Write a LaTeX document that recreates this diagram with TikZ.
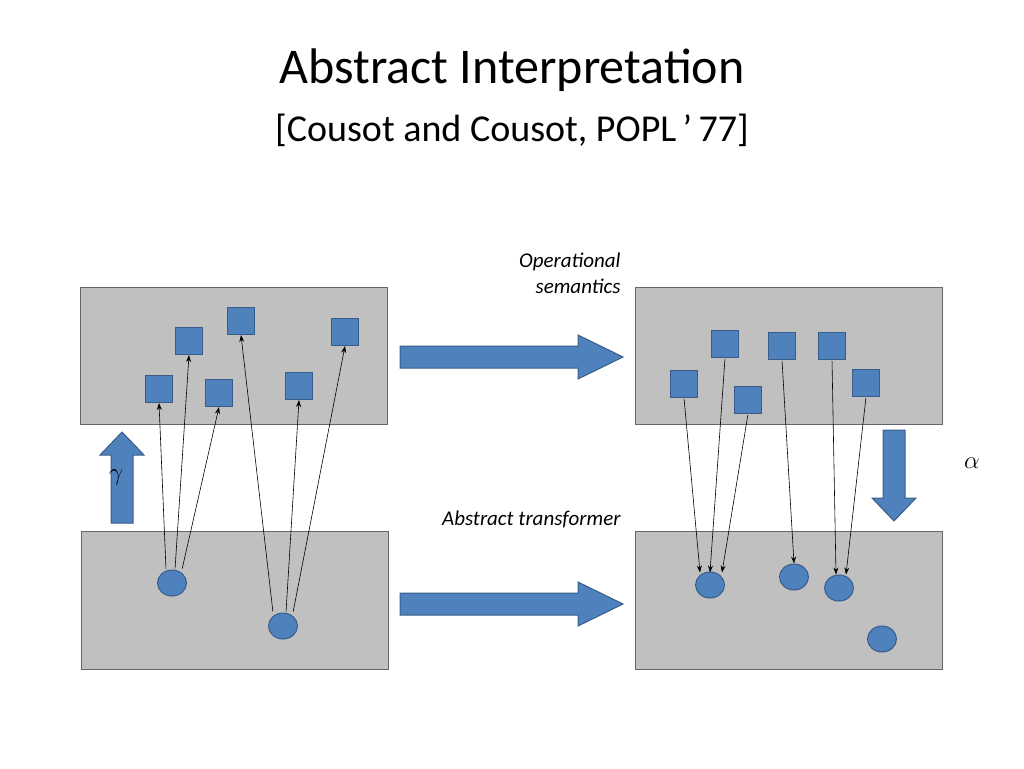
\documentclass[tikz,border=0pt]{standalone}
\usepackage{fontspec}
\setmainfont{Carlito}
\usetikzlibrary{arrows.meta,shapes.geometric}
\definecolor{bl}{HTML}{4F81BD}
\definecolor{bd}{HTML}{385D8A}
\definecolor{gr}{HTML}{C0C0C0}
\begin{document}
\begin{tikzpicture}[x=1pt,y=-1pt,
 panel/.style={fill=gr,draw=black!60,line width=0.8pt},
 sq/.style={draw=bd,fill=bl,line width=1pt,minimum size=27pt,inner sep=0pt},
 cir/.style={draw=bd,fill=bl,line width=1pt,ellipse,minimum width=29pt,minimum height=26pt,inner sep=0pt},
 ar/.style={-{Stealth[length=7pt,width=5pt]},line width=0.6pt,shorten <=1pt},
 blk/.style={fill=bl,draw=bd,line width=1pt},
 lab/.style={font=\itshape\fontsize{21}{26}\selectfont,align=right}]
\useasboundingbox (0,0) rectangle (1024,768);
\node (t1) at (512,70) {\fontsize{50}{60}\selectfont Abstract Interpretation};
\node (t2) at (512,130) {\fontsize{38}{46}\selectfont [Cousot and Cousot, POPL\,’\,77]};
\draw[panel] (80,287) rectangle (387,424);
\draw[panel] (635,287) rectangle (942,424);
\draw[panel] (81,531) rectangle (388,669);
\draw[panel] (635,531) rectangle (942,669);
% top-left squares
\node[sq] (a1) at (189,341) {};
\node[sq] (a2) at (241,321) {};
\node[sq] (a3) at (345,332) {};
\node[sq] (a4) at (159,389) {};
\node[sq] (a5) at (219,393) {};
\node[sq] (a6) at (299,386) {};
% top-right squares
\node[sq] (b1) at (725,344) {};
\node[sq] (b2) at (782,346) {};
\node[sq] (b3) at (832,346) {};
\node[sq] (b4) at (684,384) {};
\node[sq] (b5) at (748,400) {};
\node[sq] (b6) at (866,383) {};
% circles
\node[cir] (c1) at (172,583) {};
\node[cir] (c2) at (283,626) {};
\node[cir] (d1) at (710,585) {};
\node[cir] (d2) at (794,577) {};
\node[cir] (d3) at (839,588) {};
\node[cir] (d4) at (882,639) {};
% gamma arrows
\draw[ar] ([xshift=-6pt]c1.north) -- (a4.south);
\draw[ar] ([xshift=3pt]c1.north) -- (a1.south);
\draw[ar] ([xshift=10pt]c1.north) -- (a5.south);
\draw[ar] ([xshift=-10pt]c2.north) -- (a2.south);
\draw[ar] ([xshift=3pt]c2.north) -- (a6.south);
\draw[ar] ([xshift=10pt]c2.north) -- (a3.south);
% alpha arrows
\draw[ar] (b4.south) -- ([xshift=-10pt,yshift=-1pt]d1.north);
\draw[ar] (b1.south) -- ([xshift=0pt,yshift=-1pt]d1.north);
\draw[ar] (b5.south) -- ([xshift=12pt,yshift=-1pt]d1.north);
\draw[ar] (b2.south) -- (d2.north);
\draw[ar] (b3.south) -- ([xshift=-3pt]d3.north);
\draw[ar] (b6.south) -- ([xshift=7pt]d3.north);
% block arrows
\draw[blk] (400,346) -- (578,346) -- (578,335) -- (623,357) -- (578,379) -- (578,368) -- (400,368) -- cycle;
\draw[blk] (400,593) -- (578,593) -- (578,582) -- (623,604) -- (578,626) -- (578,615) -- (400,615) -- cycle;
\draw[blk] (111,523) -- (111,455) -- (100,455) -- (122,432) -- (144,455) -- (133,455) -- (133,523) -- cycle;
\draw[blk] (883,430) -- (905,430) -- (905,498) -- (916,498) -- (894,521) -- (872,498) -- (883,498) -- cycle;
\node (g) at (116,478) {\fontsize{44}{50}\selectfont$\gamma$};
\node (al) at (972,463) {\fontsize{44}{50}\selectfont$\alpha$};
\node[lab,anchor=north east] (op) at (624,249) {Operational\\semantics};
\node[lab,anchor=east] (at) at (624,519) {Abstract transformer};
\end{tikzpicture}
\end{document}
